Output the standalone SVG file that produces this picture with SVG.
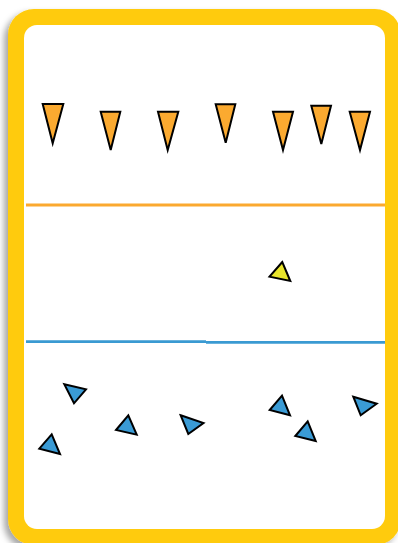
<svg xmlns="http://www.w3.org/2000/svg" width="398" height="543" viewBox="0 0 398 543">
<defs>
<filter id="sh" x="-10%" y="-10%" width="120%" height="120%">
<feDropShadow dx="-4" dy="4" stdDeviation="3" flood-color="#000" flood-opacity="0.35"/>
</filter>
</defs>
<style>
.o{fill:#FBAA30;stroke:#000;stroke-width:2;stroke-linejoin:miter}
.b{fill:#3A9BD5;stroke:#000;stroke-width:2;stroke-linejoin:miter}
.y{fill:#E9E52B;stroke:#000;stroke-width:2;stroke-linejoin:miter}
</style>
<rect width="398" height="543" fill="#fff"/>
<g id="card">
<rect x="8" y="9" width="393" height="536" rx="26" fill="#FFCB0B" filter="url(#sh)"/>
<rect x="24" y="25" width="361" height="504" rx="13" fill="#fff"/>
</g>
<g id="lines">
<line x1="26" y1="205" x2="385" y2="205" stroke="#FBA92F" stroke-width="2.8"/>
<line x1="26" y1="341.6" x2="206" y2="341.6" stroke="#3A9AD2" stroke-width="2.8"/>
<line x1="206" y1="342.4" x2="385" y2="342.4" stroke="#3A9AD2" stroke-width="2.8"/>
</g>
<g id="orange">
<polygon class="o" points="42.7,104 63.3,104 52.7,143.3"/>
<polygon class="o" points="100.7,111.7 120.3,111.7 110.7,150"/>
<polygon class="o" points="158,111.7 178.3,111.7 167.7,150"/>
<polygon class="o" points="215.7,104.3 235.3,104.3 225.7,142.7"/>
<polygon class="o" points="273,111.7 293,111.7 283,150"/>
<polygon class="o" points="311.3,105.7 331,105.7 321.3,144"/>
<polygon class="o" points="349.7,111.7 370,111.7 360,150"/>
</g>
<g id="yellow">
<polygon class="y" points="282.3,262 269.5,276.7 290.3,281"/>
</g>
<g id="blue">
<polygon class="b" points="64.3,384.3 86,389.3 74,403.3"/>
<polygon class="b" points="128.3,415.3 116,430 136.7,434.7"/>
<polygon class="b" points="51.7,434.3 39.3,448.7 60,454"/>
<polygon class="b" points="180.7,415.3 203.5,423 188.3,434"/>
<polygon class="b" points="282,395.7 269.7,410 290,415.3"/>
<polygon class="b" points="307.7,421.3 295.3,436 315.7,441"/>
<polygon class="b" points="353.3,396.7 376.7,403.7 360.7,415.3"/>
</g>
</svg>
